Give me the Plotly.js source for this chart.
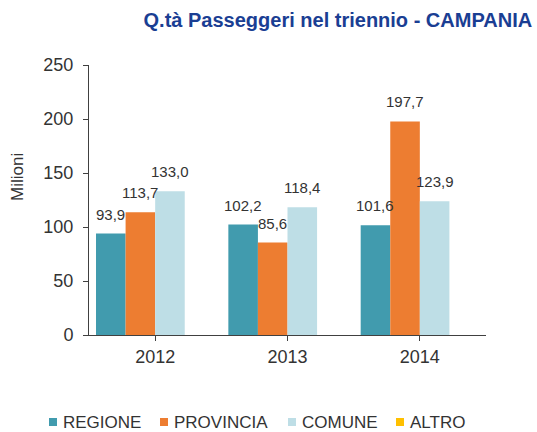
<!DOCTYPE html>
<html><head><meta charset="utf-8">
<script src="https://cdn.plot.ly/plotly-3.0.1.min.js"></script>
<style>body{margin:0;background:#fff}#c{width:537px;height:432px}</style>
</head><body><div id="c"></div>
<script>
const years = ['2012', '2013', '2014'];
const regione = [93.9, 102.2, 101.6];
const provincia = [113.7, 85.6, 197.7];
const comune = [133.0, 118.4, 123.9];
const altro = [null, null, null];
const seriesNames = ['REGIONE', 'PROVINCIA', 'COMUNE', 'ALTRO'];
const colors = ['#419BAE', '#ED7D31', '#BEDEE6', '#FFC000'];
const values = [regione, provincia, comune, altro];

const font = 'Liberation Sans, Arial, sans-serif';
const W = 537, H = 432;
const M = {l: 89, r: 51, t: 65, b: 97};
const plotW = W - M.l - M.r, plotH = H - M.t - M.b;
const bargap = 0.106;
const catW = plotW / years.length;
const barW = catW * (1 - bargap) / values.length;
const px2x = p => (p - M.l) / plotW;
const py2y = p => (H - M.b - p) / plotH;

const traces = values.map((v, i) => ({
  type: 'bar', x: years, y: v, name: seriesNames[i],
  marker: {color: colors[i], line: {width: 0}},
  hoverinfo: 'none'
}));

// data labels above bars
const annotations = [];
values.forEach((v, i) => {
  v.forEach((val, j) => {
    if (val === null) return;
    annotations.push({
      xref: 'x', yref: 'y', x: years[j], y: val,
      xshift: (i - (values.length - 1) / 2) * barW, yshift: 9,
      xanchor: 'center', yanchor: 'bottom', showarrow: false,
      text: val.toFixed(1).replace('.', ','),
      font: {family: font, size: 15, color: '#333'}
    });
  });
});

// y axis title
annotations.push({xref: 'paper', yref: 'paper', x: px2x(17), y: py2y(177),
  xanchor: 'center', yanchor: 'middle', showarrow: false, textangle: -90,
  text: 'Milioni', font: {family: font, size: 17, color: '#333'}});

// manual legend
const legendStarts = [49, 160, 288, 396];
const legendY = 422;
const shapes = [];
seriesNames.forEach((n, i) => {
  const x0 = legendStarts[i];
  shapes.push({type: 'rect', xref: 'paper', yref: 'paper',
    x0: px2x(x0), x1: px2x(x0 + 8),
    y0: py2y(legendY + 4), y1: py2y(legendY - 4),
    fillcolor: colors[i], line: {width: 0}});
  annotations.push({xref: 'paper', yref: 'paper',
    x: px2x(x0 + 12), y: py2y(legendY),
    xanchor: 'left', yanchor: 'middle', showarrow: false,
    text: n, font: {family: font, size: 17, color: '#333'}});
});

Plotly.newPlot('c', traces, {
  width: W, height: H,
  margin: M,
  paper_bgcolor: '#fff', plot_bgcolor: '#fff',
  barmode: 'group', bargap: bargap, bargroupgap: 0,
  showlegend: false,
  title: {text: '<b>Q.tà Passeggeri nel triennio - CAMPANIA</b>', x: 0.991, xanchor: 'right', y: 0.954, yanchor: 'middle',
    font: {family: font, size: 20, color: '#1A3E93'}},
  xaxis: {showline: true, linecolor: '#404040', linewidth: 1, ticks: 'outside', tickson: 'boundaries', ticklen: 5, tickcolor: '#404040',
    tickfont: {family: font, size: 18, color: '#333'}, showgrid: false, fixedrange: true},
  yaxis: {range: [0, 250], dtick: 50, showline: true, linecolor: '#404040', linewidth: 1, ticks: 'outside', ticklen: 5, tickcolor: '#404040',
    tickfont: {family: font, size: 18, color: '#333'}, showgrid: false, zeroline: false, ticklabelstandoff: 6},
  annotations: annotations,
  shapes: shapes
}, {staticPlot: true});
</script></body></html>
